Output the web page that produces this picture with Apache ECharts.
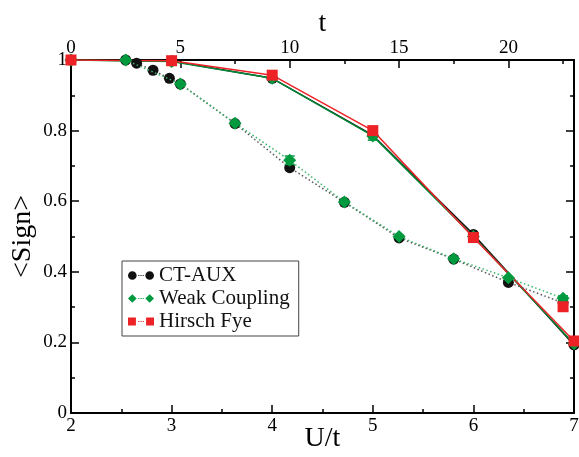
<!DOCTYPE html>
<html>
<head>
<meta charset="utf-8">
<script src="https://cdn.jsdelivr.net/npm/echarts@6/dist/echarts.min.js"></script>
<style>html,body{margin:0;padding:0;background:#fff}#c{width:579px;height:457px}</style>
</head>
<body>
<div id="c"></div>
<script>
// ---- data ----
// dotted curves, plotted against the top axis t
var ctauxT = [[2.5,1.0],[3,0.991],[3.75,0.971],[4.5,0.948],[5,0.932],[7.5,0.820],[10,0.695],[12.5,0.597],[15,0.496],[17.5,0.436],[20,0.370],[22.5,0.312]];
var weakT = [[2.5,1.0],[5,0.932],[7.5,0.821],[10,0.716],[12.5,0.598],[15,0.500],[17.5,0.437],[20,0.383],[22.5,0.325]];
var hfT = [[22.5,0.301]];
// solid curves, plotted against the bottom axis U/t
var ctauxU = [[2,1.0],[3,0.997],[4,0.948],[5,0.787],[6,0.506],[7,0.193]];
var weakU = [[2,1.0],[3,0.996],[4,0.948],[5,0.785],[6,0.500],[7,0.196]];
var hfU = [[2,1.0],[3,0.998],[4,0.957],[5,0.800],[6,0.497],[7,0.204]];
// error bars [x, low, high]
var weakTErr = [[10,0.704,0.728],[22.5,0.318,0.332]];
var weakUErr = [[5,0.773,0.797]];
var legendNames = ['CT-AUX','Weak Coupling','Hirsch Fye'];

var FONT = "'Liberation Serif','Times New Roman',serif";
var BLACK = '#111111', GREEN = '#009a3e', RED = '#ec2227';

function dotsPath(shape){
  var s = '';
  if (shape === 'circle') {
    s += 'M1,5 A4,4 0 1,0 9,5 A4,4 0 1,0 1,5 Z M17,5 A4,4 0 1,0 25,5 A4,4 0 1,0 17,5 Z';
  } else if (shape === 'diamond') {
    s += 'M5,1 L9,5 L5,9 L1,5 Z M21,1 L25,5 L21,9 L17,5 Z';
  } else {
    s += 'M1.5,1.5 L8.5,1.5 L8.5,8.5 L1.5,8.5 Z M17.5,1.5 L24.5,1.5 L24.5,8.5 L17.5,8.5 Z';
  }
  [10.5,12.5,14.5].forEach(function(x){ s += ' M'+x+',4.5 L'+(x+1)+',4.5 L'+(x+1)+',5.5 L'+x+',5.5 Z'; });
  return 'path://' + s;
}

function errBar(color){
  return function(params, api){
    var x = api.value(0);
    var p1 = api.coord([x, api.value(1)]);
    var p2 = api.coord([x, api.value(2)]);
    var w = 5;
    var st = {stroke: color, lineWidth: 1.5};
    return {type:'group', children:[
      {type:'line', shape:{x1:p1[0],y1:p1[1],x2:p2[0],y2:p2[1]}, style:st},
      {type:'line', shape:{x1:p1[0]-w,y1:p1[1],x2:p1[0]+w,y2:p1[1]}, style:st},
      {type:'line', shape:{x1:p2[0]-w,y1:p2[1],x2:p2[0]+w,y2:p2[1]}, style:st}
    ]};
  };
}

var axisLine = {show:true, onZero:false, lineStyle:{color:'#000', width:2}};
var tickLbl = {color:'#000', fontFamily:FONT, fontSize:19};

var chart = echarts.init(document.getElementById('c'), null, {renderer:'canvas'});
chart.setOption({
  animation:false,
  backgroundColor:'#fff',
  grid:{left:71, right:5, top:60, bottom:44, containLabel:false, outerBoundsMode:'none'},
  legend:{
    left:122, top:261, orient:'vertical',
    data:[
      {name:legendNames[0], icon:dotsPath('circle')},
      {name:legendNames[1], icon:dotsPath('diamond')},
      {name:legendNames[2], icon:dotsPath('square')}
    ],
    itemWidth:26, itemHeight:10, itemGap:2,
    borderColor:'#444', borderWidth:1, padding:[4,9,4,6],
    textStyle:{color:'#111', fontFamily:FONT, fontSize:21},
    selectedMode:false
  },
  xAxis:[
    {type:'value', position:'bottom', min:2, max:7, interval:1,
     name:'U/t', nameLocation:'middle', nameGap:12, nameMoveOverlap:false,
     nameTextStyle:{color:'#000', fontFamily:FONT, fontSize:28},
     axisLine:axisLine, axisTick:{inside:true, length:8, lineStyle:{color:'#000', width:1.5}},
     minorTick:{show:true, splitNumber:2, length:4, lineStyle:{color:'#000', width:1.5}},
     axisLabel:Object.assign({margin:4}, tickLbl), splitLine:{show:false}},
    {type:'value', position:'top', min:0, max:23, interval:5,
     name:'t', nameLocation:'middle', nameGap:22, nameMoveOverlap:false,
     nameTextStyle:{color:'#000', fontFamily:FONT, fontSize:28},
     axisLine:axisLine, axisTick:{inside:true, length:8, lineStyle:{color:'#000', width:1.5}},
     minorTick:{show:true, splitNumber:2, length:4, lineStyle:{color:'#000', width:1.5}},
     axisLabel:Object.assign({margin:2, showMaxLabel:false}, tickLbl), splitLine:{show:false}}
  ],
  yAxis:[
    {type:'value', position:'left', min:0, max:1, interval:0.2,
     name:'<Sign>', nameLocation:'middle', nameGap:34, nameRotate:90, nameMoveOverlap:false,
     nameTextStyle:{color:'#000', fontFamily:FONT, fontSize:28},
     axisLine:axisLine, axisTick:{inside:true, length:8, lineStyle:{color:'#000', width:1.5}},
     minorTick:{show:true, splitNumber:2, length:4, lineStyle:{color:'#000', width:1.5}},
     axisLabel:Object.assign({margin:4}, tickLbl), splitLine:{show:false}},
    {type:'value', position:'right', min:0, max:1, interval:0.2,
     axisLine:axisLine, axisTick:{inside:true, length:8, lineStyle:{color:'#000', width:1.5}},
     minorTick:{show:true, splitNumber:2, length:4, lineStyle:{color:'#000', width:1.5}},
     axisLabel:{show:false}, splitLine:{show:false}}
  ],
  series:[
    {name:'CT-AUX U', type:'line', xAxisIndex:0, yAxisIndex:0, data:ctauxU,
     symbol:'circle', symbolSize:11, color:BLACK,
     lineStyle:{color:BLACK, width:1.5}, itemStyle:{color:BLACK}, z:2},
    {name:'Weak Coupling U', type:'line', xAxisIndex:0, yAxisIndex:0, data:weakU,
     symbol:'diamond', symbolSize:13, color:GREEN,
     lineStyle:{color:'#008a38', width:1.5}, itemStyle:{color:GREEN}, z:3},
    {name:'Weak Coupling U err', type:'custom', xAxisIndex:0, yAxisIndex:0, data:weakUErr,
     renderItem:errBar(GREEN), z:3, silent:true},
    {name:'Hirsch Fye U', type:'line', xAxisIndex:0, yAxisIndex:0, data:hfU,
     symbol:'rect', symbolSize:11, color:RED,
     lineStyle:{color:RED, width:1.5}, itemStyle:{color:RED}, z:4},
    {name:legendNames[0], type:'line', xAxisIndex:1, yAxisIndex:0, data:ctauxT,
     symbol:'circle', symbolSize:11, color:BLACK,
     lineStyle:{color:'#555', width:1.5, type:[1.5,2.5]}, itemStyle:{color:BLACK}, z:5},
    {name:legendNames[1], type:'line', xAxisIndex:1, yAxisIndex:0, data:weakT,
     symbol:'diamond', symbolSize:13, color:GREEN,
     lineStyle:{color:'#3cb46a', width:1.5, type:[1.5,2.5]}, itemStyle:{color:GREEN}, z:6},
    {name:'Weak Coupling T err', type:'custom', xAxisIndex:1, yAxisIndex:0, data:weakTErr,
     renderItem:errBar(GREEN), z:6, silent:true},
    {name:legendNames[2], type:'line', xAxisIndex:1, yAxisIndex:0, data:hfT,
     symbol:'rect', symbolSize:11, color:RED,
     lineStyle:{color:RED, width:1.5, type:[1.5,2.5]}, itemStyle:{color:RED}, z:7}
  ]
});
</script>
</body>
</html>
